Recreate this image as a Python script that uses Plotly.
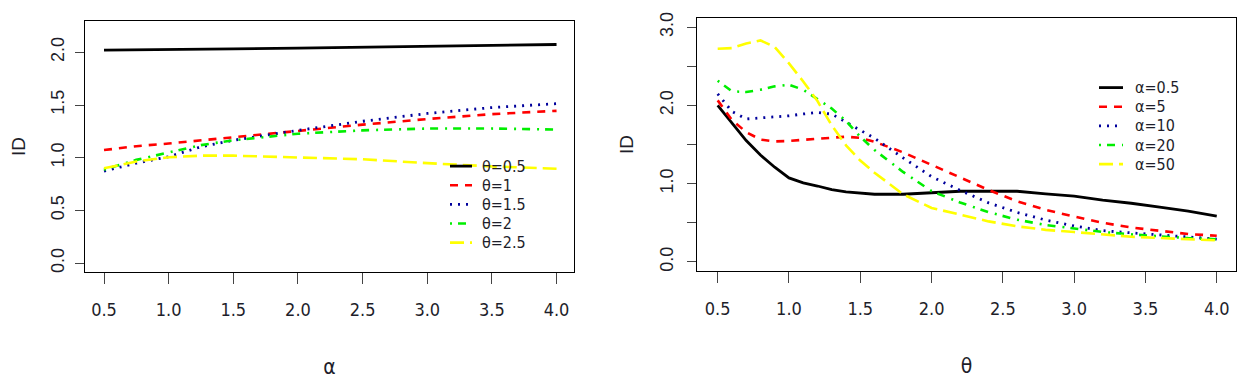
import plotly.graph_objects as go

# ---------------- data ----------------
alpha_grid = [0.5, 0.75, 1.0, 1.25, 1.5, 2.0, 2.5, 3.0, 3.5, 4.0]
id_theta_05 = [2.020, 2.022, 2.027, 2.030, 2.033, 2.040, 2.050, 2.058, 2.066, 2.074]
id_theta_1 = [1.073, 1.110, 1.135, 1.166, 1.197, 1.259, 1.314, 1.367, 1.414, 1.445]
id_theta_15 = [0.874, 0.949, 1.010, 1.104, 1.166, 1.260, 1.346, 1.420, 1.476, 1.513]
id_theta_2 = [0.887, 0.980, 1.050, 1.120, 1.166, 1.228, 1.260, 1.277, 1.277, 1.268]
id_theta_25 = [0.900, 0.965, 1.005, 1.020, 1.020, 1.005, 0.986, 0.949, 0.918, 0.896]

theta_grid = [0.5, 0.6, 0.7, 0.8, 0.9, 1.0, 1.1, 1.2, 1.3, 1.4, 1.5, 1.6,
              1.8, 2.0, 2.2, 2.4, 2.6, 2.8, 3.0, 3.2, 3.4, 3.6, 3.8, 4.0]
id_alpha_05 = [2.000, 1.780, 1.550, 1.366, 1.210, 1.074, 1.010, 0.970, 0.925, 0.894, 0.875, 0.865,
               0.865, 0.880, 0.903, 0.903, 0.903, 0.870, 0.840, 0.790, 0.750, 0.700, 0.650, 0.585]
id_alpha_5 = [2.064, 1.813, 1.659, 1.563, 1.540, 1.545, 1.560, 1.575, 1.590, 1.600, 1.585, 1.535,
              1.400, 1.240, 1.070, 0.920, 0.775, 0.665, 0.580, 0.500, 0.440, 0.395, 0.357, 0.335]
id_alpha_10 = [2.148, 1.922, 1.826, 1.838, 1.846, 1.867, 1.890, 1.910, 1.889, 1.784, 1.688, 1.580,
               1.330, 1.090, 0.915, 0.755, 0.633, 0.535, 0.460, 0.400, 0.372, 0.343, 0.320, 0.293]
id_alpha_20 = [2.315, 2.180, 2.170, 2.200, 2.243, 2.264, 2.200, 2.080, 1.960, 1.800, 1.600, 1.430,
               1.150, 0.905, 0.760, 0.635, 0.540, 0.472, 0.425, 0.383, 0.352, 0.327, 0.304, 0.290]
id_alpha_50 = [2.724, 2.732, 2.790, 2.830, 2.745, 2.536, 2.306, 2.055, 1.745, 1.490, 1.295, 1.140,
               0.865, 0.690, 0.605, 0.518, 0.455, 0.410, 0.382, 0.352, 0.323, 0.306, 0.293, 0.276]

left_labels = ["θ=0.5", "θ=1", "θ=1.5", "θ=2", "θ=2.5"]
right_labels = ["α=0.5", "α=5", "α=10", "α=20", "α=50"]
left_ticks = [0.0, 0.5, 1.0, 1.5, 2.0]
left_ticktext = ["0.0", "0.5", "1.0", "1.5", "2.0"]
right_yticks = [0.0, 0.5, 1.0, 1.5, 2.0, 2.5, 3.0]
right_yticktext = ["0.0", "", "1.0", "", "2.0", "", "3.0"]
x_ticks = [0.5, 1.0, 1.5, 2.0, 2.5, 3.0, 3.5, 4.0]
x_ticktext = ["0.5", "1.0", "1.5", "2.0", "2.5", "3.0", "3.5", "4.0"]

# ---------------- styles ----------------
colors = ["#000000", "#FF0000", "#00009C", "#00EE00", "#FFFF00"]
dashes = ["solid", "8px,7px", "2px,6px", "2px,6px,8px,7px", "14px,6px"]
widths = [2.8, 2.6, 2.8, 2.6, 2.6]
NARROW = "DejaVu Sans Condensed, Liberation Sans Narrow, Liberation Sans, Arial, sans-serif"
REG = "Liberation Sans, Arial, sans-serif"
TXT = "#1e1e2a"

OFF = 8  # page body margin
W, H = 1240, 376

fig = go.Figure()
left_series = [id_theta_05, id_theta_1, id_theta_15, id_theta_2, id_theta_25]
right_series = [id_alpha_05, id_alpha_5, id_alpha_10, id_alpha_20, id_alpha_50]
for i, ys in enumerate(left_series):
    fig.add_trace(go.Scatter(x=alpha_grid, y=ys, mode="lines", name=left_labels[i],
                             line=dict(color=colors[i], dash=dashes[i], width=widths[i]),
                             showlegend=False, xaxis="x", yaxis="y"))
for i, ys in enumerate(right_series):
    fig.add_trace(go.Scatter(x=theta_grid, y=ys, mode="lines", name=right_labels[i],
                             line=dict(color=colors[i], dash=dashes[i], width=widths[i]),
                             showlegend=False, xaxis="x2", yaxis="y2"))

def px_x(p):
    return (p - OFF) / W

def px_y(p):
    return 1 - (p - OFF) / H

common_x = dict(showline=True, mirror=True, linecolor="black", linewidth=1,
                showgrid=False, zeroline=False, ticks="outside", ticklen=11,
                tickcolor="#444", tickwidth=1, tickvals=x_ticks, ticktext=x_ticktext,
                tickfont=dict(family=NARROW, size=18, color=TXT),
                ticklabelstandoff=10, ticklabeloverflow="allow")
common_y = dict(showline=True, mirror=True, linecolor="black", linewidth=1,
                showgrid=False, zeroline=False, ticks="outside", ticklen=9,
                tickcolor="#444", tickwidth=1, tickangle=-90,
                tickfont=dict(family=REG, size=18, color=TXT),
                ticklabeloverflow="allow")

fig.update_layout(
    width=W, height=H, margin=dict(l=0, r=0, t=0, b=0),
    paper_bgcolor="white", plot_bgcolor="white", showlegend=False,
    xaxis=dict(domain=[px_x(85), px_x(574)], range=[0.353, 4.135], anchor="y",
               title=dict(text="α", font=dict(family=NARROW, size=21, color=TXT), standoff=40),
               **common_x),
    yaxis=dict(domain=[px_y(271), px_y(15)], range=[-0.084, 2.298], anchor="x",
               tickvals=left_ticks, ticktext=left_ticktext, ticklabelstandoff=4,
               title=dict(text="ID", font=dict(family=REG, size=19, color=TXT), standoff=21),
               **common_y),
    xaxis2=dict(domain=[px_x(697), px_x(1236)], range=[0.355, 4.135], anchor="y2",
                title=dict(text="θ", font=dict(family=NARROW, size=21, color=TXT), standoff=40),
                **common_x),
    yaxis2=dict(domain=[px_y(270), px_y(12)], range=[-0.117, 3.117], anchor="x2",
                tickvals=right_yticks, ticktext=right_yticktext, ticklabelstandoff=7,
                title=dict(text="ID", font=dict(family=REG, size=19, color=TXT), standoff=18),
                **common_y),
)

# manual legends (key lines + labels)
def add_legend(x0, x1, xt, y0, labels):
    for i, lab in enumerate(labels):
        yy = y0 + 19.5 * i
        fig.add_shape(type="line", xref="paper", yref="paper",
                      x0=px_x(x0), x1=px_x(x1), y0=px_y(yy), y1=px_y(yy),
                      line=dict(color=colors[i], dash=dashes[i], width=widths[i]))
        fig.add_annotation(xref="paper", yref="paper", x=px_x(xt), y=px_y(yy),
                           text=lab, showarrow=False, xanchor="left", yanchor="middle",
                           font=dict(family=NARROW, size=16, color=TXT))

add_legend(450, 472, 480, 163, left_labels)
add_legend(1099, 1123, 1133, 83, right_labels)

fig.write_html("out.html")
